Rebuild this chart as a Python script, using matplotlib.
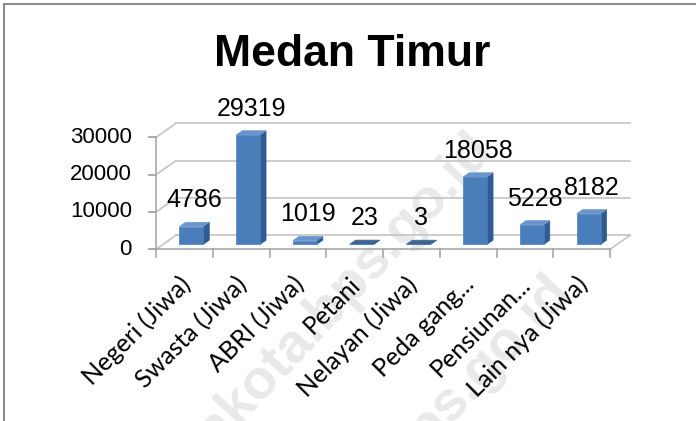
import numpy as np
import matplotlib
matplotlib.use("Agg")
import matplotlib.pyplot as plt
from matplotlib.patches import Polygon
from matplotlib.lines import Line2D

# data
categories = ["Negeri (Jiwa)", "Swasta (Jiwa)", "ABRI (Jiwa)", "Petani",
              "Nelayan (Jiwa)", "Peda gang...", "Pensiunan...", "Lain nya (Jiwa)"]
values = [4786, 29319, 1019, 23, 3, 18058, 5228, 8182]
yticks = [0, 10000, 20000, 30000]
title = "Medan Timur"
watermark = "medankota.bps.go.id"

fig = plt.figure(figsize=(6.96, 4.21), dpi=100)
fig.patch.set_facecolor("white")

# axes placed so the front floor edge sits where it is in the picture
px_w, px_h = 696.0, 421.0
left_px, right_px = 156.0, 610.0
zero_px, per10k_px = 249.3, 37.33
ymax = 35000
ax = fig.add_axes([left_px / px_w, (px_h - zero_px) / px_h,
                   (right_px - left_px) / px_w, ymax / 10000 * per10k_px / px_h])
ax.set_xlim(0, len(categories))
ax.set_ylim(0, ymax)
ax.axis("off")

ux = (right_px - left_px) / len(categories)   # pixels per category
uy = per10k_px / 10000                        # pixels per value unit
DX = 20 / ux            # depth offset in data units
DY = 14 / uy

grid_c = "#c4c4c4"
n = len(categories)

# faint watermark behind the chart
for ex, ey in ((494, 150), (572, 292)):
    ax.text(ex / px_w, 1 - ey / px_h, watermark, transform=fig.transFigure,
            fontsize=40, fontweight="bold", color="#e9e9e9", rotation=47,
            rotation_mode="anchor", ha="right", va="baseline", zorder=0,
            family="Liberation Sans", clip_on=False)

# back wall gridlines and left side slants
for g in yticks:
    ax.plot([DX, n + DX], [g + DY, g + DY], color=grid_c, lw=1.2, zorder=1, clip_on=False)
    ax.plot([0, DX], [g, g + DY], color=grid_c, lw=1.2, zorder=1, clip_on=False)
    ax.plot([-7 / ux, 0], [g, g], color="#9a9a9a", lw=1.2, zorder=1, clip_on=False)
    ax.text(-24 / ux, g, f"{g}", ha="right", va="center", fontsize=16,
            family="Liberation Sans", clip_on=False)

# floor and front axis
ax.plot([0, 0], [0, yticks[-1]], color="#a8a8a8", lw=1.2, zorder=2, clip_on=False)
ax.plot([0, n], [0, 0], color="#a8a8a8", lw=1.2, zorder=2, clip_on=False)
ax.plot([n, n + DX], [0, DY], color=grid_c, lw=1.2, zorder=2, clip_on=False)
for i in range(n + 1):
    ax.plot([i, i], [0, -8 / uy], color="#a8a8a8", lw=1.2, zorder=2, clip_on=False)

# 3d bars
f0, f1 = 0.35, 0.65
bw = 0.42
front_c, side_c, top_c = "#4a7ebb", "#2f5b90", "#6a95cc"
for i, v in enumerate(values):
    xl = i + 0.5 - bw / 2
    xr = i + 0.5 + bw / 2
    b0, b1 = f0 * DY, f1 * DY
    front = [(xl + f0 * DX, b0), (xr + f0 * DX, b0), (xr + f0 * DX, b0 + v), (xl + f0 * DX, b0 + v)]
    side = [(xr + f0 * DX, b0), (xr + f1 * DX, b1), (xr + f1 * DX, b1 + v), (xr + f0 * DX, b0 + v)]
    top = [(xl + f0 * DX, b0 + v), (xr + f0 * DX, b0 + v), (xr + f1 * DX, b1 + v), (xl + f1 * DX, b1 + v)]
    tc = top_c if v > 500 else "#3f6591"
    for pts, c in ((side, side_c), (top, tc), (front, front_c)):
        ax.add_patch(Polygon(pts, closed=True, facecolor=c, edgecolor=c, lw=0.5,
                             zorder=3, clip_on=False))
    ax.annotate(f"{v}", xy=(i + 0.5 + 0.5 * (f0 + f1) * DX, v + b1),
                xytext=(0, 22), textcoords="offset pixels", ha="center", va="center",
                fontsize=18, family="Liberation Sans", zorder=5, annotation_clip=False)

# category labels
for i, c in enumerate(categories):
    ax.text(i + 0.5 - 6 / ux, -23 / uy, c, rotation=45, rotation_mode="anchor",
            ha="right", va="top", fontsize=18, family=["Lato", "DejaVu Sans"],
            clip_on=False, zorder=5)

fig.text(352 / px_w, 1 - 54 / px_h, title, ha="center", va="center",
         fontsize=32, fontweight="bold", family="Liberation Sans")

# frame edges of the cropped chart area
fig.add_artist(Line2D([4 / px_w, 1], [1 - 4 / px_h, 1 - 4 / px_h], color="#8c8c8c", lw=1.5))
fig.add_artist(Line2D([4 / px_w, 4 / px_w], [0, 1 - 4 / px_h], color="#8c8c8c", lw=1.5))

fig.savefig("out.png", dpi=100)
